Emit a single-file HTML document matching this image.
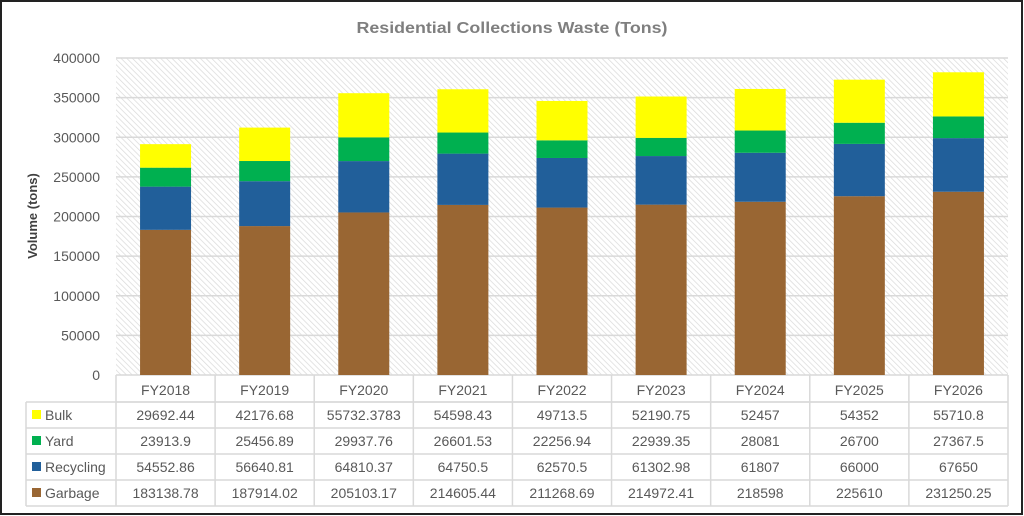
<!DOCTYPE html>
<html><head><meta charset="utf-8"><style>
html,body{margin:0;padding:0;background:#fff;}
svg{display:block;font-family:"Liberation Sans",sans-serif;}
</style></head><body>
<svg id="chart" width="1024" height="516" viewBox="0 0 1024 516">
<defs>
<pattern id="hatch" width="4" height="4" patternUnits="userSpaceOnUse" patternTransform="rotate(-45)">
<rect width="4" height="4" fill="#fff"/>
<line x1="0" y1="0" x2="0" y2="4" stroke="#d9d9d9" stroke-width="1.4"/>
</pattern>
</defs>
<rect x="1" y="1" width="1021" height="513" fill="#fff" stroke="#222" stroke-width="2"/>
<text x="512" y="33" text-anchor="middle" font-size="16" font-weight="bold" fill="#7f7f7f" textLength="311" lengthAdjust="spacingAndGlyphs">Residential Collections Waste (Tons)</text>
<text transform="translate(37,216) rotate(-90)" text-anchor="middle" font-size="13" font-weight="bold" fill="#404040">Volume (tons)</text>
<rect x="116" y="58" width="892" height="317" fill="url(#hatch)"/>
<g id="grid"></g>
<g id="yticks"></g>
<g id="bars"></g>
<g id="table"></g>
</svg>
<script>
const categories=["FY2018","FY2019","FY2020","FY2021","FY2022","FY2023","FY2024","FY2025","FY2026"];
const garbage=[183138.78,187914.02,205103.17,214605.44,211268.69,214972.41,218598,225610,231250.25];
const recycling=[54552.86,56640.81,64810.37,64750.5,62570.5,61302.98,61807,66000,67650];
const yard=[23913.9,25456.89,29937.76,26601.53,22256.94,22939.35,28081,26700,27367.5];
const bulk=[29692.44,42176.68,55732.3783,54598.43,49713.5,52190.75,52457,54352,55710.8];
const yTicks=[0,50000,100000,150000,200000,250000,300000,350000,400000];
const bulkLabels=["29692.44","42176.68","55732.3783","54598.43","49713.5","52190.75","52457","54352","55710.8"];
const yardLabels=["23913.9","25456.89","29937.76","26601.53","22256.94","22939.35","28081","26700","27367.5"];
const recLabels=["54552.86","56640.81","64810.37","64750.5","62570.5","61302.98","61807","66000","67650"];
const garLabels=["183138.78","187914.02","205103.17","214605.44","211268.69","214972.41","218598","225610","231250.25"];

const NS="http://www.w3.org/2000/svg";
const X0=116,X1=1008,Y0=375,Y1=58,YMAX=400000;
const colW=(X1-X0)/categories.length;
const y=v=>Y0-(v/YMAX)*(Y0-Y1);
const xc=i=>X0+colW*(i+0.5);
function mk(tag,attrs,parent,text){const e=document.createElementNS(NS,tag);for(const k in attrs)e.setAttribute(k,attrs[k]);if(text!==undefined)e.textContent=text;parent.appendChild(e);return e;}

const grid=document.getElementById('grid'),yt=document.getElementById('yticks');
yTicks.forEach(t=>{
  const l=mk('line',{x1:X0,x2:X1,y1:y(t),y2:y(t),stroke:'#d9d9d9','stroke-width':1.5},grid);
  
  
  const tx=mk('text',{x:100,y:y(t)+5,'text-anchor':'end','font-size':14,fill:'#595959'},yt,String(t));
  
  
});

const series=[{n:'garbage',d:garbage,c:'#996633'},{n:'recycling',d:recycling,c:'#215f9a'},{n:'yard',d:yard,c:'#00b050'},{n:'bulk',d:bulk,c:'#ffff00'}];
const bars=document.getElementById('bars');
const bw=51;
categories.forEach((cat,i)=>{
  let base=0;
  series.forEach(s=>{
    const v=s.d[i];
    const r=mk('rect',{x:xc(i)-bw/2,y:y(base+v),width:bw,height:y(base)-y(base+v),fill:s.c},bars);
    
    
    base+=v;
  });
});

const tb=document.getElementById('table');
const rows=[{n:'Bulk',c:'#ffff00',l:bulkLabels},{n:'Yard',c:'#00b050',l:yardLabels},{n:'Recycling',c:'#215f9a',l:recLabels},{n:'Garbage',c:'#996633',l:garLabels}];
const HT=376,RH=26,TL=26;
const st={stroke:'#d9d9d9','stroke-width':1.5};
mk('line',Object.assign({x1:X0,x2:X1,y1:HT+RH,y2:HT+RH},st),tb);
for(let r=0;r<=rows.length;r++){const yy=HT+RH*(r+1);mk('line',Object.assign({x1:TL,x2:X1,y1:yy,y2:yy},st),tb);}
mk('line',Object.assign({x1:TL,x2:TL,y1:HT+RH,y2:HT+RH*5},st),tb);
for(let c=0;c<=categories.length;c++){const xx=X0+colW*c;mk('line',Object.assign({x1:xx,x2:xx,y1:Y0,y2:HT+RH*5},st),tb);}
categories.forEach((cat,i)=>{
  const t=mk('text',{x:xc(i),y:HT+19,'text-anchor':'middle','font-size':14,fill:'#595959'},tb,cat);
  
  
});
rows.forEach((r,ri)=>{
  const yy=HT+RH*(ri+1);
  const sw=mk('rect',{x:32,y:yy+8,width:9,height:9,fill:r.c},tb);
  
  
  const lt=mk('text',{x:45,y:yy+18,'font-size':14,fill:'#595959'},tb,r.n);
  
  
  r.l.forEach((v,i)=>{
    const t=mk('text',{x:xc(i),y:yy+18,'text-anchor':'middle','font-size':14,fill:'#595959'},tb,v);
    
    
  });
});
</script>
</body></html>
